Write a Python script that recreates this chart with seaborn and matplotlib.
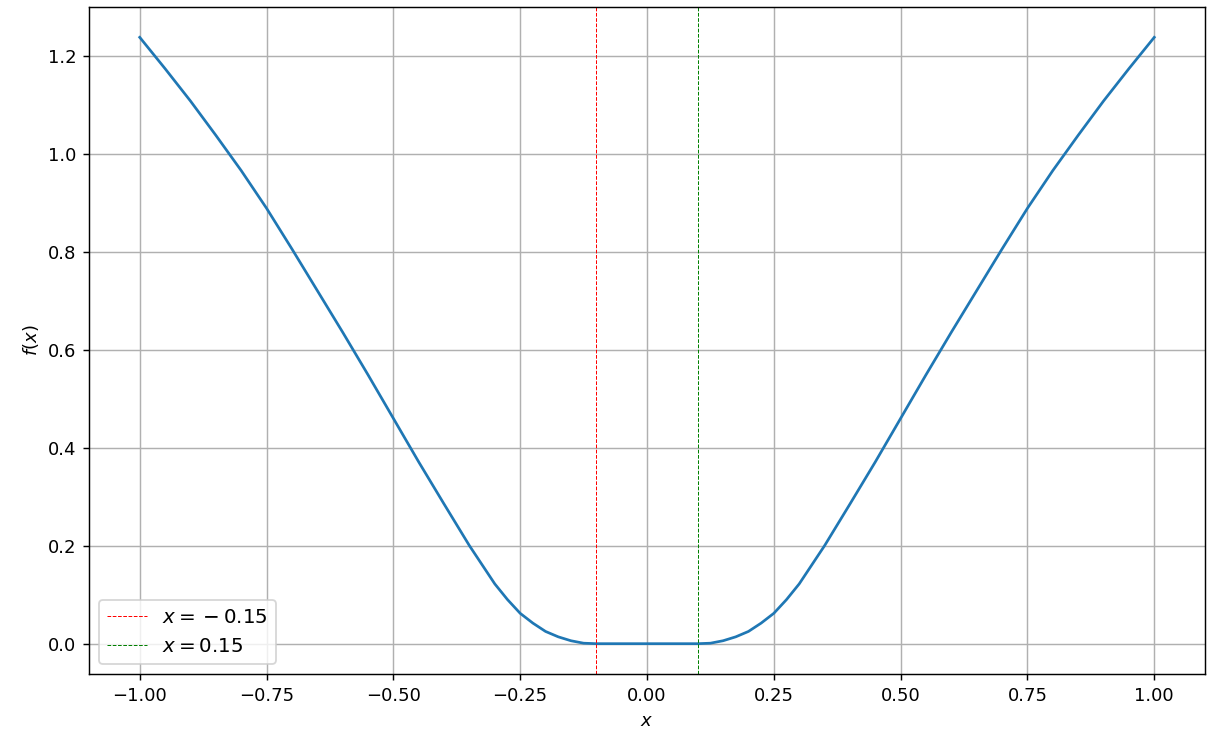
import matplotlib
matplotlib.use("Agg")
import matplotlib.pyplot as plt
import seaborn as sns
import pandas as pd

# values
x_vals = [-1.00, -0.95, -0.90, -0.85, -0.80, -0.75, -0.70, -0.65, -0.60, -0.55,
          -0.50, -0.45, -0.40, -0.35, -0.30, -0.275, -0.25, -0.225, -0.20, -0.175,
          -0.15, -0.125, -0.10, -0.05, 0.00, 0.05, 0.10, 0.125, 0.15, 0.175,
          0.20, 0.225, 0.25, 0.275, 0.30, 0.35, 0.40, 0.45, 0.50, 0.55,
          0.60, 0.65, 0.70, 0.75, 0.80, 0.85, 0.90, 0.95, 1.00]
f_vals = [1.238, 1.174, 1.108, 1.038, 0.966, 0.889, 0.806, 0.721, 0.636, 0.549,
          0.460, 0.371, 0.285, 0.200, 0.122, 0.090, 0.062, 0.042, 0.025, 0.014,
          0.006, 0.001, 0.000, 0.000, 0.000, 0.000, 0.000, 0.001, 0.006, 0.014,
          0.025, 0.042, 0.062, 0.090, 0.122, 0.200, 0.285, 0.371, 0.460, 0.549,
          0.636, 0.721, 0.806, 0.889, 0.966, 1.038, 1.108, 1.174, 1.238]
vline_pos = [-0.1, 0.1]
vline_labels = ["$x = {} - 0.15$", "$x = 0.15$"]
vline_colors = ["red", "green"]

df = pd.DataFrame({"x": x_vals, "f": f_vals})

DPI = 130
fig, ax = plt.subplots(figsize=(1219 / DPI, 738 / DPI), dpi=DPI)
fig.subplots_adjust(left=89 / 1219, right=1205 / 1219, top=1 - 7 / 738, bottom=1 - 674 / 738)

sns.lineplot(data=df, x="x", y="f", ax=ax, color="#1f77b4", linewidth=1.5,
             estimator=None, sort=False)
handles = []
for pos, lab, col in zip(vline_pos, vline_labels, vline_colors):
    h = ax.axvline(pos, color=col, linestyle="--", linewidth=0.55, label=lab)
    handles.append(h)

ax.set_xlabel("$x$")
ax.set_ylabel("$f(x)$")
ax.grid(True)
ax.legend(handles=handles, labels=vline_labels, loc="lower left", fontsize=11)

fig.savefig("out.png", dpi=DPI)
